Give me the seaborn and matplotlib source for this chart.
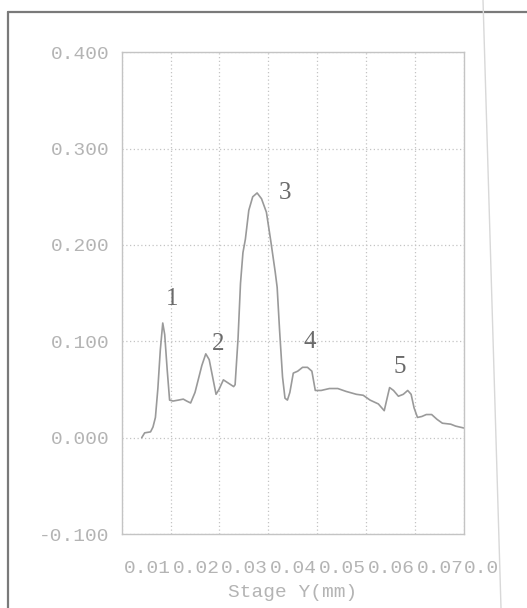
import numpy as np
import pandas as pd
import matplotlib
matplotlib.use("Agg")
import matplotlib.pyplot as plt
import seaborn as sns
from matplotlib.lines import Line2D

# profile (stage Y in mm, signal)
stage_y = [0.0041, 0.0047, 0.0059, 0.0064, 0.0069, 0.0074, 0.0079, 0.0084, 0.0088, 0.0093,
           0.0098, 0.0105, 0.0116, 0.0126, 0.0133, 0.0141, 0.0150, 0.0157, 0.0164, 0.0172,
           0.0179, 0.0186, 0.0193, 0.0199, 0.0208, 0.0217, 0.0229, 0.0232, 0.0238, 0.0243,
           0.0248, 0.0253, 0.0260, 0.0268, 0.0277, 0.0286, 0.0296, 0.0305, 0.0314, 0.0318,
           0.0323, 0.0329, 0.0334, 0.0339, 0.0344, 0.0351, 0.0360, 0.0370, 0.0380, 0.0389,
           0.0396, 0.0408, 0.0425, 0.0442, 0.0459, 0.0480, 0.0494, 0.0508, 0.0525, 0.0537,
           0.0542, 0.0548, 0.0556, 0.0566, 0.0576, 0.0585, 0.0592, 0.0598, 0.0605, 0.0614,
           0.0623, 0.0634, 0.0645, 0.0656, 0.0673, 0.0683, 0.0700]
signal = [0.000, 0.005, 0.006, 0.011, 0.021, 0.051, 0.091, 0.119, 0.107, 0.071,
          0.039, 0.038, 0.039, 0.040, 0.038, 0.036, 0.047, 0.061, 0.075, 0.087,
          0.081, 0.063, 0.045, 0.050, 0.060, 0.057, 0.053, 0.055, 0.103, 0.160,
          0.192, 0.206, 0.236, 0.250, 0.254, 0.248, 0.234, 0.204, 0.172, 0.156,
          0.111, 0.063, 0.041, 0.039, 0.047, 0.067, 0.069, 0.073, 0.073, 0.069,
          0.049, 0.049, 0.051, 0.051, 0.048, 0.045, 0.044, 0.039, 0.035, 0.028,
          0.039, 0.052, 0.049, 0.043, 0.045, 0.049, 0.045, 0.031, 0.021, 0.022,
          0.024, 0.024, 0.019, 0.015, 0.014, 0.012, 0.010]

peak_labels = ["1", "2", "3", "4", "5"]
peak_x = [0.0103, 0.0198, 0.0334, 0.0384, 0.0569]
peak_y = [0.144, 0.097, 0.254, 0.099, 0.073]

y_ticks = [-0.1, 0.0, 0.1, 0.2, 0.3, 0.4]
y_tick_labels = ["-0.100", "0.000", "0.100", "0.200", "0.300", "0.400"]
x_ticks = [0.0, 0.01, 0.02, 0.03, 0.04, 0.05, 0.06, 0.07]
# the printed x labels run together as "0.010.020.030.040.050.060.070.0"
x_tick_labels = ["", "0.01", "0.02", "0.03", "0.04", "0.05", "0.06", "0.07"]
x_tail_label = "0.0"

df = pd.DataFrame({"Stage Y(mm)": stage_y, "signal": signal})

sns.set_style("white")
mono = "Liberation Mono"
tick_grey = "#b4b4b4"

fig = plt.figure(figsize=(5.27, 6.08), dpi=100)
ax = fig.add_axes([0.2309, 0.1217, 0.6494, 0.7923])

sns.lineplot(data=df, x="Stage Y(mm)", y="signal", ax=ax, color="#9a9a9a", linewidth=1.2)

ax.set_xticks(x_ticks)
ax.set_xticklabels(x_tick_labels, fontfamily=mono, fontsize=14, color=tick_grey, ha="right")
ax.tick_params(axis="x", length=0, pad=19)
ax.set_yticks(y_ticks)
ax.set_yticklabels(y_tick_labels, fontfamily=mono, fontsize=14, color=tick_grey)
ax.tick_params(axis="y", length=0, pad=9)
ax.set_xlim(0.0, 0.07)
ax.set_ylim(-0.1, 0.4)

# trailing piece of the run-together x labels, past the right edge
ax.annotate(x_tail_label, xy=(1.0, 0.0), xycoords="axes fraction", xytext=(0, -19),
            textcoords="offset points", ha="left", va="top", fontfamily=mono,
            fontsize=14, color=tick_grey)

ax.grid(True, linestyle=(0, (1, 2)), color="#c4c4c4", linewidth=0.9)
for s in ax.spines.values():
    s.set_color("#c4c4c4")
    s.set_linewidth(1.0)

ax.set_xlabel("Stage Y(mm)", fontfamily=mono, fontsize=14, color=tick_grey, labelpad=5)
ax.set_ylabel("")

for lab, px, py in zip(peak_labels, peak_x, peak_y):
    ax.text(px, py, lab, fontfamily="Liberation Serif", fontsize=18, color="#6a6a6a",
            ha="center", va="center")

# scan border lines
fig.add_artist(Line2D([8 / 527, 1.0], [1 - 12 / 608, 1 - 12 / 608], color="#7a7a7a", linewidth=1.6))
fig.add_artist(Line2D([8 / 527, 8 / 527], [0.0, 1 - 12 / 608], color="#7a7a7a", linewidth=1.6))
fig.add_artist(Line2D([483 / 527, 501 / 527], [1.0, 0.0], color="#d8d8d8", linewidth=1.0))

fig.savefig("out.png", dpi=100)
